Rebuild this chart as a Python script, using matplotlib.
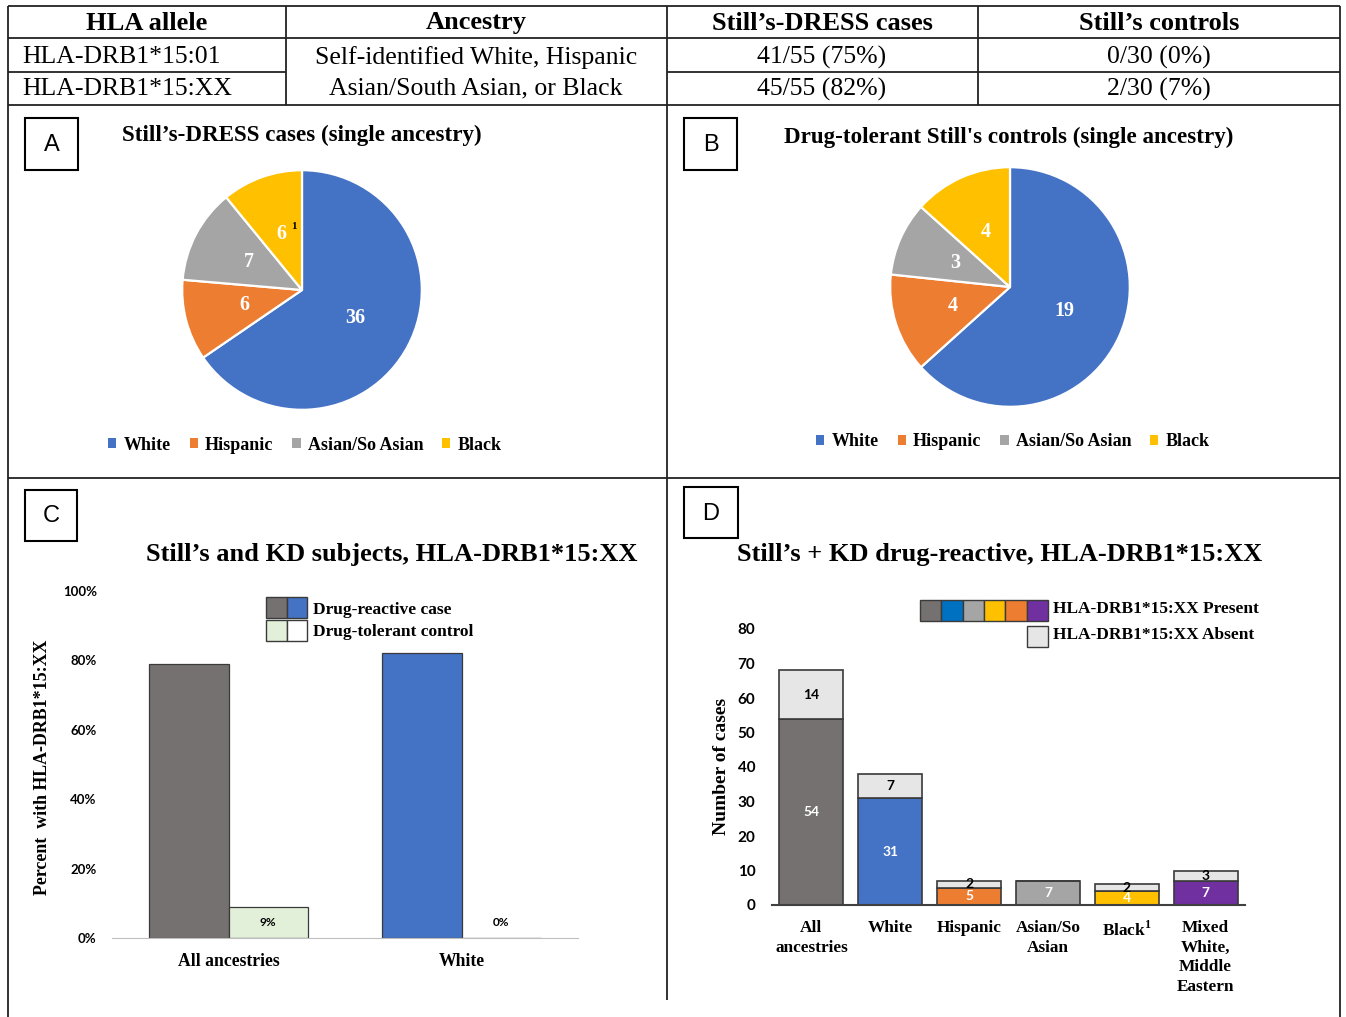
import matplotlib
matplotlib.use('Agg')
import matplotlib.pyplot as plt
from matplotlib.patches import Rectangle, Patch
import numpy as np

plt.rcParams['mathtext.fontset'] = 'custom'
plt.rcParams['mathtext.rm'] = 'Liberation Serif:bold'
plt.rcParams['mathtext.bf'] = 'Liberation Serif:bold'

W, H = 1346, 1017

# ---------------- data ----------------
table_header = ["HLA allele", "Ancestry", "Still’s-DRESS cases", "Still’s controls"]
table_alleles = ["HLA-DRB1*15:01", "HLA-DRB1*15:XX"]
table_ancestry = ["Self-identified White, Hispanic", "Asian/South Asian, or Black"]
table_cases = ["41/55 (75%)", "45/55 (82%)"]
table_controls = ["0/30 (0%)", "2/30 (7%)"]

pie_labels = ["White", "Hispanic", "Asian/So Asian", "Black"]
pie_a_values = [36, 6, 7, 6]
pie_b_values = [19, 4, 3, 4]
pie_colors = ["#4472C4", "#ED7D31", "#A5A5A5", "#FFC000"]

c_groups = ["All ancestries", "White"]
c_case = [0.79, 0.82]
c_control = [0.09, 0.0]
c_control_text = ["9%", "0%"]
c_case_colors = ["#767171", "#4472C4"]
c_control_color = "#E2F0D9"

d_groups = ["All\nancestries", "White", "Hispanic", "Asian/So\nAsian", "Black$^{1}$",
            "Mixed\nWhite,\nMiddle\nEastern"]
d_present = [54, 31, 5, 7, 4, 7]
d_absent = [14, 7, 2, 0, 2, 3]
d_colors = ["#767171", "#4472C4", "#ED7D31", "#A5A5A5", "#FFC000", "#7030A0"]
d_legend_colors = ["#767171", "#0070C0", "#A5A5A5", "#FFC000", "#ED7D31", "#7030A0"]
d_absent_color = "#E7E6E6"

SERIF = 'Liberation Serif'
SANS = 'Liberation Sans'
CAL = 'Lato'

fig = plt.figure(figsize=(W / 100, H / 100), dpi=100)
fig.patch.set_facecolor('white')


def rect(x0, y0, x1, y1):
    return [x0 / W, 1 - y1 / H, (x1 - x0) / W, (y1 - y0) / H]


# overlay axes in pixel coordinates
ax0 = fig.add_axes([0, 0, 1, 1])
ax0.set_xlim(0, W)
ax0.set_ylim(H, 0)
ax0.axis('off')

lc = '#222222'
lw = 1.3
# table lines
for (x0, x1, y) in [(8, 1340, 6), (8, 1340, 38), (8, 286, 72), (667, 1340, 72), (8, 1340, 105),
                    (8, 1340, 478)]:
    ax0.plot([x0, x1], [y, y], color=lc, lw=lw, solid_capstyle='butt')
for (x, y0, y1) in [(8, 6, 1017), (286, 6, 105), (667, 6, 1000), (978, 6, 105), (1340, 6, 1017)]:
    ax0.plot([x, x], [y0, y1], color=lc, lw=lw, solid_capstyle='butt')

col_centers = [147, 476, 822, 1159]
for cx, txt in zip(col_centers, table_header):
    ax0.text(cx, 23, txt, ha='center', va='center', fontsize=19, fontweight='bold', family=SERIF)
for i, y in enumerate([57, 89]):
    ax0.text(22, y, table_alleles[i], ha='left', va='center', fontsize=18.5, family=SERIF)
    ax0.text(col_centers[2], y, table_cases[i], ha='center', va='center', fontsize=18.5, family=SERIF)
    ax0.text(col_centers[3], y, table_controls[i], ha='center', va='center', fontsize=18.5, family=SERIF)
for y, txt in zip([58, 88], table_ancestry):
    ax0.text(col_centers[1], y, txt, ha='center', va='center', fontsize=18.5, family=SERIF)

# panel letter boxes
for (x0, y0, x1, y1, letter) in [(25, 118, 78, 170, 'A'), (684, 118, 737, 170, 'B'),
                                  (25, 490, 77, 541, 'C'), (684, 487, 738, 538, 'D')]:
    ax0.add_patch(Rectangle((x0, y0), x1 - x0, y1 - y0, fill=False, ec='black', lw=1.5))
    ax0.text((x0 + x1) / 2, (y0 + y1) / 2 + 1, letter, ha='center', va='center', fontsize=17, family=SANS)

# ---------------- pies ----------------
def draw_pie(box, values, title, title_xy, legend_xy, sup=False):
    ax = fig.add_axes(rect(*box))
    wedges, texts = ax.pie(values, colors=pie_colors, startangle=90, counterclock=False,
                           labels=[str(v) for v in values], labeldistance=0.5,
                           wedgeprops=dict(edgecolor='white', linewidth=1.6),
                           textprops=dict(color='white', fontsize=14.5, fontweight='bold', family=SERIF))
    for t in texts:
        t.set_ha('center')
        t.set_va('center')
    ax.set_xlim(-1.01, 1.01)
    ax.set_ylim(-1.01, 1.01)
    ax.set_aspect('equal')
    if sup:
        x, y = texts[3].get_position()
        ax.annotate("1", (x, y), xytext=(9, 5), textcoords='offset points', ha='center', va='center',
                    fontsize=8, fontweight='bold', family=SERIF, color='black')
    ax0.text(title_xy[0], title_xy[1], title, ha='center', va='center', fontsize=16.6,
             fontweight='bold', family=SERIF)
    handles = [Patch(facecolor=c) for c in pie_colors]
    fig.legend(handles, pie_labels, loc='center', ncol=4,
               bbox_to_anchor=(legend_xy[0] / W, 1 - legend_xy[1] / H), frameon=False,
               handlelength=0.45, handleheight=0.45, handletextpad=0.4, columnspacing=1.05,
               prop=dict(family=SERIF, weight='bold', size=13))


draw_pie((181, 169, 423, 411), pie_a_values, "Still’s-DRESS cases (single ancestry)", (302, 135),
         (305, 445), sup=True)
draw_pie((889, 166, 1131, 408), pie_b_values, "Drug-tolerant Still's controls (single ancestry)",
         (1009, 137), (1013, 442))

# ---------------- panel C ----------------
axc = fig.add_axes(rect(112, 591, 578, 938))
xc = np.arange(len(c_groups))
bw = 0.34
axc.bar(xc - bw / 2, c_case, width=bw, color=c_case_colors, edgecolor='#3a3a3a', lw=0.9)
axc.bar(xc + bw / 2, c_control, width=bw, color=c_control_color, edgecolor='#3a3a3a', lw=0.9)
for xi, v, t in zip(xc, c_control, c_control_text):
    axc.text(xi + bw / 2, 0.045, t, ha='center', va='center', fontsize=8.5, fontweight='bold', family=CAL)
axc.set_xlim(-0.5, 1.5)
axc.set_ylim(0, 1)
axc.set_yticks(np.arange(0, 1.01, 0.2))
axc.set_yticklabels([f"{int(round(v * 100))}%" for v in np.arange(0, 1.01, 0.2)])
axc.set_xticks(xc)
axc.set_xticklabels(c_groups)
axc.tick_params(axis='y', length=0, pad=11, labelsize=9.5)
axc.tick_params(axis='x', length=0, pad=11)
for lab in axc.get_yticklabels():
    lab.set_family(CAL)
    lab.set_fontweight('bold')
for lab in axc.get_xticklabels():
    lab.set_family(SERIF)
    lab.set_fontweight('bold')
    lab.set_fontsize(12.7)
for s in ['top', 'right', 'left']:
    axc.spines[s].set_visible(False)
axc.spines['bottom'].set_color('#BFBFBF')
axc.patch.set_alpha(0)
ax0.text(43, 767, "Percent  with HLA-DRB1*15:XX", rotation=90, ha='center', va='center',
         fontsize=12.9, fontweight='bold', family=SERIF)
ax0.text(392, 555, "Still’s and KD subjects, HLA-DRB1*15:XX", ha='center', va='center',
         fontsize=19, fontweight='bold', family=SERIF)
# legend C
ax0.add_patch(Rectangle((266, 597), 20.5, 21, fc=c_case_colors[0], ec='#3a3a3a', lw=1))
ax0.add_patch(Rectangle((286.5, 597), 20.5, 21, fc=c_case_colors[1], ec='#3a3a3a', lw=1))
ax0.add_patch(Rectangle((266, 620), 20.5, 21, fc=c_control_color, ec='#3a3a3a', lw=1))
ax0.add_patch(Rectangle((286.5, 620), 20.5, 21, fc='white', ec='#3a3a3a', lw=1))
ax0.text(313, 610, "Drug-reactive case", ha='left', va='center', fontsize=12.5, fontweight='bold', family=SERIF)
ax0.text(313, 632, "Drug-tolerant control", ha='left', va='center', fontsize=12.5, fontweight='bold', family=SERIF)

# ---------------- panel D ----------------
axd = fig.add_axes(rect(772, 629, 1245, 905))
xd = np.arange(len(d_groups))
bwd = 0.81
axd.bar(xd, d_present, width=bwd, color=d_colors, edgecolor='#3a3a3a', lw=1.2)
axd.bar(xd, d_absent, width=bwd, bottom=d_present, color=d_absent_color, edgecolor='#3a3a3a', lw=1.2)
for xi, p, a in zip(xd, d_present, d_absent):
    axd.text(xi, p / 2, str(p), ha='center', va='center', color='white', fontsize=10,
             fontweight='bold', family=CAL)
    if a > 0:
        axd.text(xi, p + a / 2, str(a), ha='center', va='center', color='black', fontsize=10,
                 fontweight='bold', family=CAL)
axd.set_xlim(-0.5, 5.5)
axd.set_ylim(0, 80)
axd.set_yticks(np.arange(0, 81, 10))
axd.set_xticks(xd)
axd.set_xticklabels(d_groups, linespacing=1.3, va='top')
axd.tick_params(axis='y', length=0, pad=12, labelsize=11)
axd.tick_params(axis='x', length=0, pad=11)
for lab in axd.get_yticklabels():
    lab.set_family(CAL)
    lab.set_fontweight('bold')
for lab in axd.get_xticklabels():
    lab.set_family(SERIF)
    lab.set_fontweight('bold')
    lab.set_fontsize(12.4)
for s in ['top', 'right', 'left']:
    axd.spines[s].set_visible(False)
axd.spines['bottom'].set_color('#404040')
axd.spines['bottom'].set_linewidth(1.5)
axd.patch.set_alpha(0)
ax0.text(721, 766, "Number of cases", rotation=90, ha='center', va='center',
         fontsize=14, fontweight='bold', family=SERIF)
ax0.text(1000, 555, "Still’s + KD drug-reactive, HLA-DRB1*15:XX", ha='center', va='center',
         fontsize=19, fontweight='bold', family=SERIF)
# legend D
for i, c in enumerate(d_legend_colors):
    ax0.add_patch(Rectangle((920 + i * 21.3, 600), 21.3, 21, fc=c, ec='#3a3a3a', lw=1))
ax0.add_patch(Rectangle((1027, 626), 21, 21, fc=d_absent_color, ec='#3a3a3a', lw=1))
ax0.text(1053, 609, "HLA-DRB1*15:XX Present", ha='left', va='center', fontsize=12.5,
         fontweight='bold', family=SERIF)
ax0.text(1053, 635, "HLA-DRB1*15:XX Absent", ha='left', va='center', fontsize=12.5,
         fontweight='bold', family=SERIF)

fig.savefig('out.png', dpi=100)
